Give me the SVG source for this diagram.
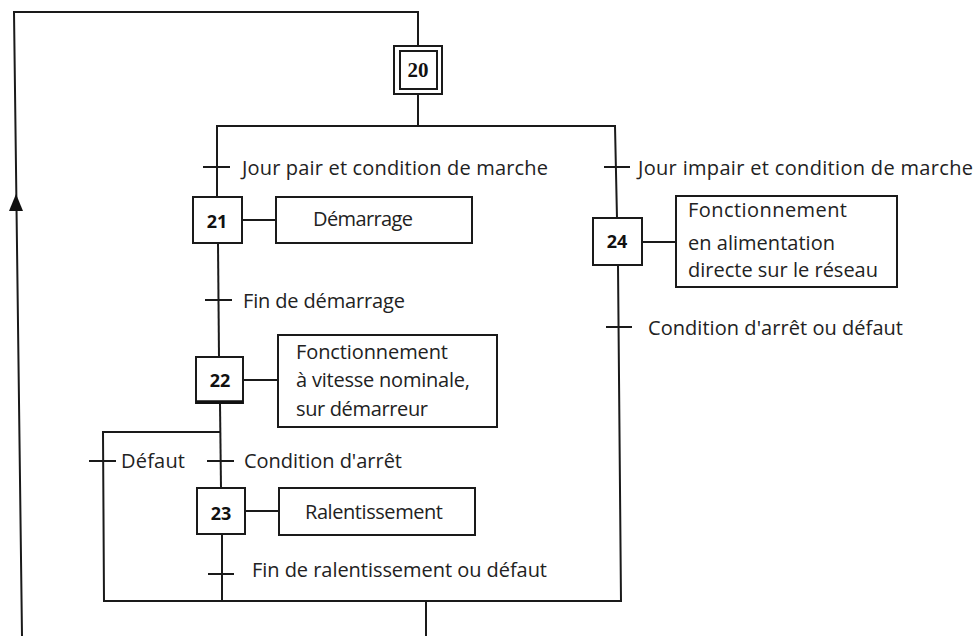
<svg xmlns="http://www.w3.org/2000/svg" width="978" height="636" viewBox="0 0 978 636">
<style>
.ln{stroke:#1a1a1a;stroke-width:2;fill:none;stroke-linecap:square}
.tk{stroke:#1a1a1a;stroke-width:2;fill:none}
.box{stroke:#1a1a1a;stroke-width:2;fill:#fff}
.t{font-family:"Open Sans","DejaVu Sans",sans-serif;font-size:20px;fill:#222}
.n{font-family:"Open Sans","DejaVu Sans",sans-serif;font-size:18px;font-weight:bold;fill:#111;text-anchor:middle}
.n0{font-family:"Liberation Serif",serif;font-size:21px;font-weight:bold;fill:#111;text-anchor:middle}
</style>
<rect width="978" height="636" fill="#fff"/>
<g id="connectors">
  <polyline class="ln" points="22,636 14,12 418,12 418,46"/>
  <polygon points="16,194 9,211 23,211" fill="#111"/>
  <line class="ln" x1="418" y1="94" x2="418" y2="126"/>
  <line class="ln" x1="217" y1="126" x2="615" y2="126"/>
  <line class="ln" x1="217" y1="126" x2="217" y2="197"/>
  <line class="ln" x1="615" y1="126" x2="617" y2="218"/>
  <line class="ln" x1="618" y1="265" x2="621" y2="601"/>
  <line class="ln" x1="218" y1="243" x2="219" y2="357"/>
  <line class="ln" x1="220" y1="403" x2="221" y2="488"/>
  <polyline class="ln" points="220,432 103,432 104,601"/>
  <line class="ln" x1="222" y1="534" x2="222" y2="601"/>
  <line class="ln" x1="104" y1="601" x2="621" y2="601"/>
  <line class="ln" x1="426" y1="601" x2="426" y2="636"/>
  <line class="ln" x1="242" y1="220" x2="276" y2="220"/>
  <line class="ln" x1="243" y1="380" x2="278" y2="380"/>
  <line class="ln" x1="245" y1="511" x2="279" y2="511"/>
  <line class="ln" x1="642" y1="242" x2="676" y2="242"/>
</g>
<g id="transitions">
  <line class="tk" x1="203" y1="167" x2="230" y2="167"/>
  <text class="t" x="242" y="175" textLength="306">Jour pair et condition de marche</text>
  <line class="tk" x1="604" y1="167" x2="630" y2="167"/>
  <text class="t" x="638" y="175" textLength="335">Jour impair et condition de marche</text>
  <line class="tk" x1="205" y1="300" x2="232" y2="300"/>
  <text class="t" x="243" y="308" textLength="162">Fin de démarrage</text>
  <line class="tk" x1="606" y1="327" x2="632" y2="327"/>
  <text class="t" x="648" y="335" textLength="255">Condition d'arrêt ou défaut</text>
  <line class="tk" x1="89" y1="461" x2="116" y2="461"/>
  <text class="t" x="121" y="468" textLength="64">Défaut</text>
  <line class="tk" x1="207" y1="461" x2="234" y2="461"/>
  <text class="t" x="244" y="468" textLength="158">Condition d'arrêt</text>
  <line class="tk" x1="208" y1="574" x2="234" y2="574"/>
  <text class="t" x="252" y="577" textLength="295">Fin de ralentissement ou défaut</text>
</g>
<g id="step20">
  <rect class="box" x="394" y="46" width="48" height="48"/>
  <rect class="box" x="400" y="51" width="37" height="38"/>
  <text class="n0" x="418" y="77">20</text>
</g>
<g id="step21">
  <rect class="box" x="193" y="197" width="49" height="46"/>
  <text class="n" x="217" y="228">21</text>
</g>
<g id="action21">
  <rect class="box" x="276" y="197" width="196" height="46"/>
  <text class="t" x="313" y="226" textLength="100">Démarrage</text>
</g>
<g id="step22">
  <rect class="box" x="196" y="357" width="47" height="46"/>
  <line x1="196" y1="402" x2="243" y2="402" stroke="#111" stroke-width="3.5"/>
  <text class="n" x="220" y="387">22</text>
</g>
<g id="action22">
  <rect class="box" x="278" y="335" width="219" height="92"/>
  <text class="t" x="296" y="359" textLength="152">Fonctionnement</text>
  <text class="t" x="296" y="387" textLength="174">à vitesse nominale,</text>
  <text class="t" x="296" y="416" textLength="132">sur démarreur</text>
</g>
<g id="step23">
  <rect class="box" x="197" y="488" width="48" height="46"/>
  <text class="n" x="221" y="520">23</text>
</g>
<g id="action23">
  <rect class="box" x="279" y="488" width="196" height="47"/>
  <text class="t" x="305" y="519" textLength="138">Ralentissement</text>
</g>
<g id="step24">
  <rect class="box" x="593" y="218" width="49" height="47"/>
  <text class="n" x="617" y="248">24</text>
</g>
<g id="action24">
  <rect class="box" x="676" y="196" width="221" height="91"/>
  <text class="t" x="688" y="217" textLength="159">Fonctionnement</text>
  <text class="t" x="688" y="250" textLength="147">en alimentation</text>
  <text class="t" x="688" y="277" textLength="190">directe sur le réseau</text>
</g>
</svg>
